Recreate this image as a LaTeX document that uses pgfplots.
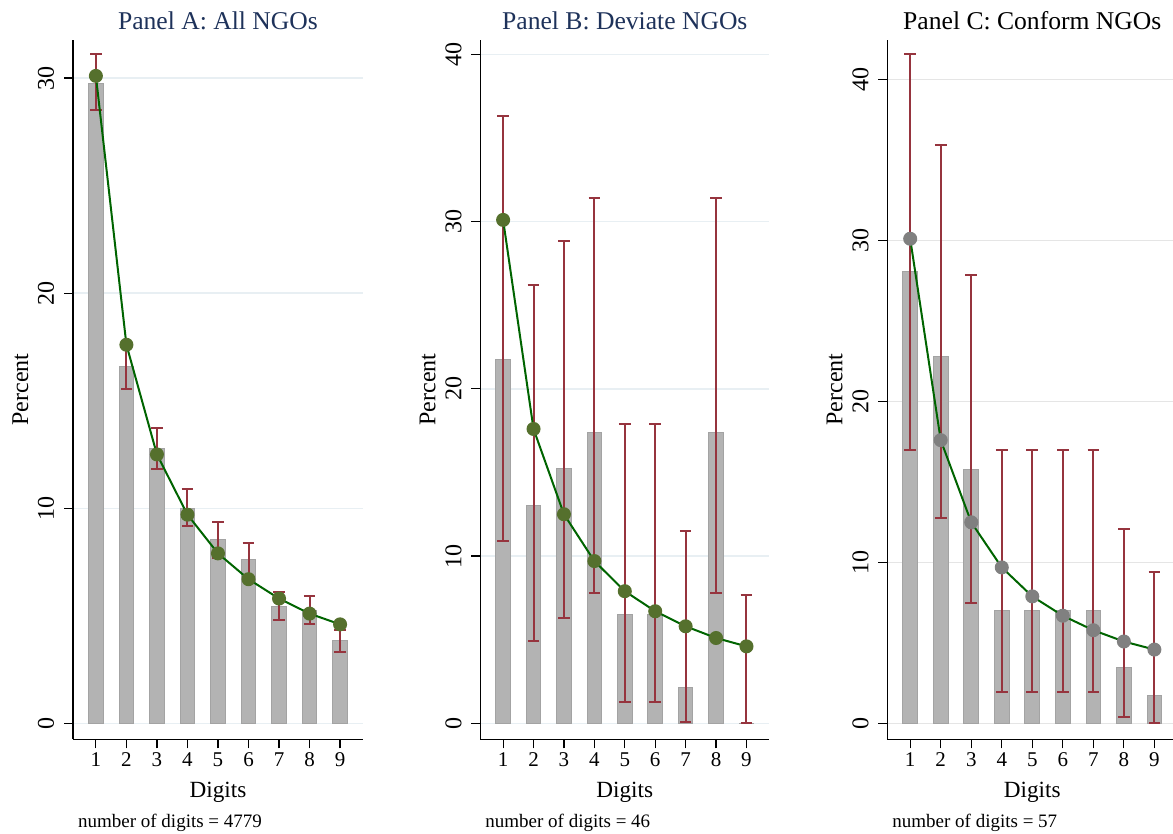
\documentclass[border=0pt]{standalone}
\usepackage{fontspec}
\setmainfont{Liberation Serif}
\usepackage{pgfplots}
\usepackage{pgfplotstable}
\pgfplotsset{compat=1.18}

\definecolor{barfill}{RGB}{179,179,179}
\definecolor{baredge}{RGB}{163,163,163}
\definecolor{cranb}{RGB}{150,52,62}
\definecolor{dkgreen}{RGB}{0,100,0}
\definecolor{olivem}{RGB}{85,112,45}
\definecolor{gridA}{RGB}{232,239,243}
\definecolor{gridC}{RGB}{229,229,229}
\definecolor{navyt}{RGB}{30,50,90}
\definecolor{markgray}{RGB}{128,128,128}

% d = first digit, pct = observed percent, lo/hi = confidence interval, benf = Benford percent
\pgfplotstableread{
d pct lo hi benf
1 29.77 28.50 31.13 30.1
2 16.60 15.55 17.65 17.6
3 12.76 11.83 13.75 12.5
4 10.00 9.18 10.88 9.7
5 8.53 7.70 9.35 7.9
6 7.60 6.80 8.40 6.7
7 5.44 4.80 6.11 5.8
8 5.24 4.63 5.92 5.1
9 3.84 3.32 4.36 4.6
}\tableA

\pgfplotstableread{
d pct lo hi benf
1 21.74 10.90 36.30 30.1
2 13.04 4.90 26.20 17.6
3 15.22 6.30 28.85 12.5
4 17.39 7.80 31.40 9.7
5 6.52 1.30 17.90 7.9
6 6.52 1.30 17.90 6.7
7 2.17 0.05 11.50 5.8
8 17.39 7.80 31.40 5.1
9 0.00 0.00 7.70 4.6
}\tableB

\pgfplotstableread{
d pct lo hi benf
1 28.07 17.00 41.60 30.1
2 22.81 12.75 35.90 17.6
3 15.79 7.50 27.85 12.5
4 7.02 1.95 17.00 9.7
5 7.02 1.95 17.00 7.9
6 7.02 1.95 17.00 6.7
7 7.02 1.95 17.00 5.8
8 3.51 0.43 12.10 5.1
9 1.75 0.04 9.40 4.6
}\tableC

\pgfplotsset{
  panel/.style={
    scale only axis, width=145pt, height=349.65pt,
    anchor=south west, clip=false,
    xmin=0.25, xmax=9.75, xtick={1,...,9},
    axis x line*=bottom, axis y line*=left,
    axis line style={-, line width=0.7pt, black},
    tick align=outside, major tick length=4.5pt,
    tick style={line width=0.6pt, black},
    minor tick num=0,
    ymajorgrids,
    /pgf/number format/assume math mode=true,
    xticklabel style={font=\fontsize{10.5}{12}\selectfont, anchor=base, inner sep=0pt},
    yticklabel style={font=\fontsize{12}{14}\selectfont, rotate=90, anchor=base, inner sep=0pt},
    xticklabel shift=9pt,
    yticklabel shift=5pt,
  },
  barsty/.style={ybar, bar width=0.48, bar shift=0pt, fill=barfill, draw=baredge, line width=0.5pt},
  errsty/.style={draw=none, mark=none, forget plot,
    error bars/.cd, y dir=both, y explicit,
    error bar style={draw=cranb, line width=1pt, solid},
    error mark options={draw=cranb, line width=1pt, mark size=2.9pt, rotate=90}},
  bensty/.style={sharp plot, draw=dkgreen, line width=1pt, mark=*, mark size=3pt},
}

\begin{document}
\begin{tikzpicture}
% ---------------- Panel A ----------------
\begin{axis}[panel, name=A, at={(36.5pt,47.35pt)},
  ymin=-0.744, ymax=31.77, ytick={0,10,20,30},
  grid style={draw=gridA, line width=0.7pt}]
\addplot[barsty] table[x=d, y=pct] {\tableA};
\addplot[errsty] table[x=d, y=pct, y error plus expr=\thisrow{hi}-\thisrow{pct}, y error minus expr=\thisrow{pct}-\thisrow{lo}] {\tableA};
\addplot[bensty, mark options={fill=olivem, draw=olivem, solid}] table[x=d, y=benf] {\tableA};
\end{axis}
% ---------------- Panel B ----------------
\begin{axis}[panel, name=B, at={(240.15pt,47.35pt)}, width=144.5pt,
  ymin=-0.957, ymax=40.86, ytick={0,10,20,30,40},
  grid style={draw=gridA, line width=0.7pt}]
\addplot[barsty] table[x=d, y=pct] {\tableB};
\addplot[errsty] table[x=d, y=pct, y error plus expr=\thisrow{hi}-\thisrow{pct}, y error minus expr=\thisrow{pct}-\thisrow{lo}] {\tableB};
\addplot[bensty, mark options={fill=olivem, draw=olivem, solid}] table[x=d, y=benf] {\tableB};
\end{axis}
% ---------------- Panel C ----------------
\begin{axis}[panel, name=C, at={(443.65pt,47.35pt)},
  ymin=-0.97, ymax=42.44, ytick={0,10,20,30,40},
  grid style={draw=gridC, line width=0.7pt}]
\addplot[barsty] table[x=d, y=pct] {\tableC};
\addplot[errsty] table[x=d, y=pct, y error plus expr=\thisrow{hi}-\thisrow{pct}, y error minus expr=\thisrow{pct}-\thisrow{lo}] {\tableC};
\addplot[bensty, mark options={fill=markgray, draw=markgray, solid}] table[x=d, y=benf] {\tableC};
\end{axis}

% titles
\node[anchor=base, font=\fontsize{12.8}{15}\selectfont, text=navyt] at ([yshift=5pt]A.north) {Panel A: All NGOs};
\node[anchor=base, font=\fontsize{12.8}{15}\selectfont, text=navyt] at ([yshift=5pt]B.north) {Panel B: Deviate NGOs};
\node[anchor=base, font=\fontsize{12.8}{15}\selectfont, text=black] at ([yshift=5pt]C.north) {Panel C: Conform NGOs};
% y labels and x labels
\foreach \p in {A,B,C}{
  \node[anchor=base, rotate=90, font=\fontsize{12}{14}\selectfont] at ([xshift=-22.5pt]\p.west) {Percent};
  \node[anchor=base, font=\fontsize{11.6}{14}\selectfont] at ([yshift=-29.35pt]\p.south) {Digits};
}
% notes
\node[anchor=base west, inner sep=0pt, font=\fontsize{9.5}{11}\selectfont] at ([xshift=2.35pt,yshift=-44.35pt]A.south west) {number of digits = 4779};
\node[anchor=base west, inner sep=0pt, font=\fontsize{9.5}{11}\selectfont] at ([xshift=2.35pt,yshift=-44.35pt]B.south west) {number of digits = 46};
\node[anchor=base west, inner sep=0pt, font=\fontsize{9.5}{11}\selectfont] at ([xshift=2.35pt,yshift=-44.35pt]C.south west) {number of digits = 57};

\pgfresetboundingbox
\path[use as bounding box] (0,0) rectangle (586.5pt,417pt);
\end{tikzpicture}
\end{document}
